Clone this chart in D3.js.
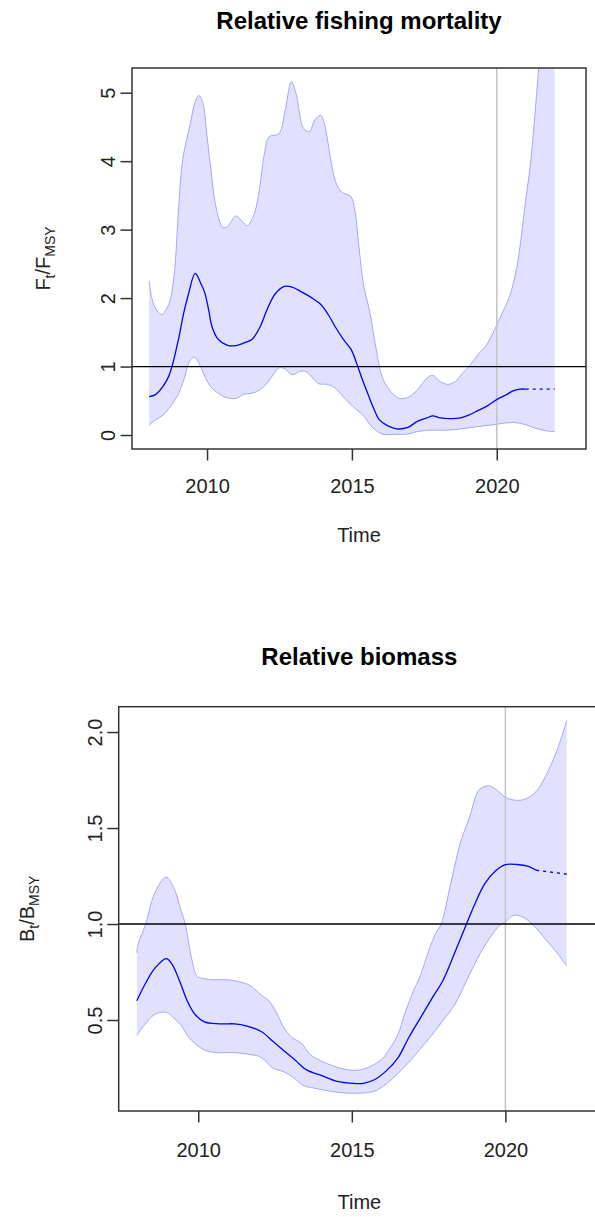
<!DOCTYPE html>
<html>
<head>
<meta charset="utf-8">
<script src="https://cdn.jsdelivr.net/npm/d3@7/dist/d3.min.js"></script>
<style>
  body { margin: 0; background: #fff; }
  svg { display: block; font-family: "Liberation Sans", Arial, sans-serif; }
</style>
</head>
<body>
<div id="chart"></div>
<script>
// ---- Relative fishing mortality (F / Fmsy) ----
const fUpperYears = [2008.0, 2008.1, 2008.28, 2008.45, 2008.6, 2008.74, 2008.88, 2009.0, 2009.13, 2009.24, 2009.4, 2009.58, 2009.72, 2009.86, 2009.99, 2010.12, 2010.31, 2010.55, 2010.71, 2011.0, 2011.17, 2011.39, 2011.63, 2011.82, 2011.98, 2012.15, 2012.48, 2012.7, 2012.91, 2013.07, 2013.33, 2013.53, 2013.72, 2013.92, 2014.05, 2014.25, 2014.44, 2014.64, 2014.97, 2015.1, 2015.23, 2015.4, 2015.62, 2015.82, 2016.02, 2016.21, 2016.6, 2016.93, 2017.26, 2017.59, 2017.79, 2018.05, 2018.31, 2018.57, 2018.83, 2019.1, 2019.36, 2019.62, 2019.88, 2020.14, 2020.41, 2020.67, 2021.0, 2021.19, 2021.32, 2021.45, 2021.7, 2022.0];
const fUpper = [2.25, 1.99, 1.81, 1.76, 1.84, 1.99, 2.4, 3.19, 3.92, 4.21, 4.5, 4.85, 4.96, 4.84, 4.4, 3.92, 3.33, 3.03, 3.05, 3.2, 3.14, 3.06, 3.23, 3.62, 4.11, 4.36, 4.4, 4.75, 5.16, 4.99, 4.48, 4.43, 4.6, 4.67, 4.55, 4.07, 3.7, 3.55, 3.48, 3.28, 2.8, 2.2, 1.79, 1.3, 0.88, 0.71, 0.54, 0.55, 0.66, 0.83, 0.87, 0.78, 0.74, 0.78, 0.91, 1.03, 1.18, 1.3, 1.5, 1.74, 1.99, 2.4, 3.43, 4.06, 4.7, 5.36, 6.6, 8.0];

const fLowerYears = [2008.0, 2008.22, 2008.48, 2008.74, 2009.0, 2009.2, 2009.4, 2009.55, 2009.72, 2009.92, 2010.12, 2010.38, 2010.71, 2011.04, 2011.23, 2011.56, 2011.82, 2012.08, 2012.28, 2012.48, 2012.67, 2012.94, 2013.2, 2013.39, 2013.59, 2013.85, 2014.12, 2014.38, 2014.64, 2014.9, 2015.16, 2015.43, 2015.62, 2015.82, 2016.08, 2016.48, 2016.93, 2017.26, 2017.65, 2018.18, 2018.57, 2019.1, 2019.49, 2019.88, 2020.41, 2020.67, 2021.0, 2021.32, 2021.72, 2022.0];
const fLower = [0.14, 0.22, 0.29, 0.42, 0.59, 0.81, 1.08, 1.14, 1.05, 0.86, 0.71, 0.61, 0.54, 0.54, 0.59, 0.61, 0.66, 0.76, 0.88, 0.98, 0.97, 0.88, 0.93, 0.93, 0.86, 0.75, 0.74, 0.7, 0.59, 0.47, 0.37, 0.27, 0.15, 0.07, 0.01, 0.01, 0.015, 0.05, 0.07, 0.07, 0.08, 0.11, 0.13, 0.15, 0.18, 0.18, 0.15, 0.1, 0.06, 0.05];

const fYears = [2008.0, 2008.22, 2008.48, 2008.68, 2008.81, 2009.0, 2009.2, 2009.36, 2009.59, 2009.79, 2009.92, 2010.05, 2010.18, 2010.38, 2010.71, 2011.04, 2011.3, 2011.56, 2011.82, 2012.08, 2012.35, 2012.67, 2012.94, 2013.26, 2013.59, 2013.92, 2014.18, 2014.44, 2014.7, 2014.97, 2015.16, 2015.36, 2015.56, 2015.75, 2015.95, 2016.21, 2016.54, 2016.93, 2017.26, 2017.59, 2017.79, 2018.05, 2018.37, 2018.7, 2019.03, 2019.36, 2019.69, 2020.01, 2020.34, 2020.54, 2020.8, 2021.0];
const fEstimate = [0.56, 0.59, 0.71, 0.86, 1.03, 1.37, 1.79, 2.06, 2.36, 2.21, 2.08, 1.84, 1.57, 1.4, 1.31, 1.31, 1.35, 1.4, 1.57, 1.84, 2.06, 2.17, 2.16, 2.09, 2.01, 1.91, 1.76, 1.57, 1.4, 1.25, 1.05, 0.81, 0.59, 0.39, 0.22, 0.14, 0.09, 0.11, 0.2, 0.25, 0.28, 0.25, 0.24, 0.245, 0.29, 0.36, 0.43, 0.52, 0.59, 0.64, 0.67, 0.67];

const fProjYears = [2021.0, 2022.0];
const fProjection = [0.67, 0.67];

// ---- Relative biomass (B / Bmsy) ----
const bUpperYears = [2008.0, 2008.05, 2008.28, 2008.58, 2008.95, 2009.2, 2009.44, 2009.58, 2009.77, 2009.95, 2010.07, 2010.44, 2010.94, 2011.31, 2011.68, 2012.05, 2012.3, 2012.54, 2012.79, 2013.04, 2013.35, 2013.65, 2013.96, 2014.4, 2014.89, 2015.26, 2015.63, 2016.0, 2016.25, 2016.49, 2016.74, 2016.99, 2017.23, 2017.48, 2017.73, 2017.91, 2018.22, 2018.53, 2018.84, 2019.15, 2019.46, 2019.7, 2020.0, 2020.32, 2020.63, 2021.0, 2021.31, 2021.68, 2022.0];
const bUpper = [0.85, 0.9, 0.995, 1.16, 1.244, 1.19, 1.07, 1.0, 0.83, 0.73, 0.72, 0.71, 0.71, 0.7, 0.68, 0.63, 0.6, 0.54, 0.46, 0.41, 0.38, 0.32, 0.29, 0.26, 0.24, 0.24, 0.26, 0.3, 0.355, 0.42, 0.54, 0.645, 0.73, 0.85, 0.95, 1.0, 1.21, 1.42, 1.56, 1.7, 1.72, 1.7, 1.66, 1.645, 1.65, 1.69, 1.77, 1.905, 2.06];

const bLowerYears = [2008.0, 2008.28, 2008.59, 2008.96, 2009.21, 2009.46, 2009.64, 2009.95, 2010.26, 2010.63, 2011.19, 2011.68, 2011.99, 2012.17, 2012.42, 2012.79, 2013.1, 2013.41, 2013.78, 2014.27, 2014.77, 2015.38, 2015.75, 2016.12, 2016.49, 2016.86, 2017.23, 2017.6, 2017.98, 2018.35, 2018.72, 2019.09, 2019.46, 2019.83, 2020.0, 2020.2, 2020.38, 2020.63, 2020.94, 2021.31, 2021.68, 2022.0];
const bLower = [0.42, 0.48, 0.53, 0.54, 0.51, 0.47, 0.42, 0.37, 0.34, 0.33, 0.33, 0.32, 0.31, 0.29, 0.25, 0.23, 0.2, 0.16, 0.145, 0.13, 0.12, 0.12, 0.13, 0.167, 0.22, 0.28, 0.35, 0.42, 0.5, 0.58, 0.7, 0.82, 0.92, 0.995, 1.01, 1.04, 1.046, 1.03, 0.99, 0.92, 0.85, 0.78];

const bYears = [2008.0, 2008.28, 2008.59, 2008.96, 2009.15, 2009.4, 2009.64, 2009.89, 2010.2, 2010.69, 2011.19, 2011.56, 2012.05, 2012.42, 2012.79, 2013.16, 2013.53, 2014.02, 2014.52, 2015.01, 2015.38, 2015.75, 2016.12, 2016.49, 2016.86, 2017.23, 2017.6, 2017.98, 2018.35, 2018.72, 2019.02, 2019.33, 2019.7, 2020.0, 2020.38, 2020.75, 2021.0];
const bEstimate = [0.6, 0.69, 0.77, 0.82, 0.79, 0.7, 0.6, 0.53, 0.49, 0.48, 0.48, 0.47, 0.44, 0.39, 0.34, 0.29, 0.24, 0.21, 0.18, 0.17, 0.17, 0.19, 0.235, 0.3, 0.41, 0.51, 0.61, 0.71, 0.85, 0.995, 1.11, 1.21, 1.28, 1.31, 1.31, 1.3, 1.28];

const bProjYears = [2021.0, 2022.0];
const bProjection = [1.28, 1.26];

// Axis ticks and reference positions
const xTicks = [2010, 2015, 2020];
const fTicks = [0, 1, 2, 3, 4, 5];
const bTicks = [0.5, 1.0, 1.5, 2.0];
const refYear = 2020;
const refLevel = 1;

// ---- Drawing ----
const W = 595, H = 1217;
const svg = d3.select("#chart").append("svg").attr("width", W).attr("height", H);

const zip = (a, b) => a.map((v, i) => [v, b[i]]);

function panel(cfg) {
  const x = d3.scaleLinear().domain([2007.41, 2023.08]).range([cfg.left, cfg.right]);
  const y = d3.scaleLinear().domain(cfg.yDomain).range([cfg.bottom, cfg.top]);
  const g = svg.append("g");

  const clipId = "clip-" + cfg.id;
  g.append("clipPath").attr("id", clipId).append("rect")
    .attr("x", cfg.left).attr("y", cfg.top)
    .attr("width", cfg.right - cfg.left).attr("height", cfg.bottom - cfg.top);

  const plot = g.append("g").attr("clip-path", `url(#${clipId})`);
  const line = d3.line().x(d => x(d[0])).y(d => y(d[1])).curve(d3.curveCatmullRom.alpha(0.5));

  const up = zip(cfg.upYears, cfg.up);
  const lo = zip(cfg.loYears, cfg.lo);
  const bandPath = line(up) + line(lo.slice().reverse()).replace(/^M/, "L") + "Z";

  plot.append("path").attr("d", bandPath).attr("fill", "rgb(225,225,255)").attr("stroke", "none");
  plot.append("path").attr("d", line(up)).attr("fill", "none").attr("stroke", "rgb(165,165,255)").attr("stroke-width", 1);
  plot.append("path").attr("d", line(lo)).attr("fill", "none").attr("stroke", "rgb(165,165,255)").attr("stroke-width", 1);

  // reference lines
  plot.append("line").attr("x1", x(refYear)).attr("x2", x(refYear))
    .attr("y1", cfg.top).attr("y2", cfg.bottom)
    .attr("stroke", "#c4c4c4").attr("stroke-width", 1.5);
  plot.append("line").attr("x1", cfg.left).attr("x2", cfg.right)
    .attr("y1", y(refLevel)).attr("y2", y(refLevel))
    .attr("stroke", "#000").attr("stroke-width", 1.3);

  // estimate and projection
  plot.append("path").attr("d", line(zip(cfg.midYears, cfg.mid)))
    .attr("fill", "none").attr("stroke", "#0000ff").attr("stroke-width", 1.3);
  plot.append("path").attr("d", line(zip(cfg.projYears, cfg.proj)))
    .attr("fill", "none").attr("stroke", "#0000ff").attr("stroke-width", 1.3)
    .attr("stroke-dasharray", "3,4");

  // frame
  g.append("rect").attr("x", cfg.left).attr("y", cfg.top)
    .attr("width", cfg.right - cfg.left).attr("height", cfg.bottom - cfg.top)
    .attr("fill", "none").attr("stroke", "#333").attr("stroke-width", 1.5);

  // x axis
  const xa = g.append("g").attr("transform", `translate(0,${cfg.bottom})`)
    .call(d3.axisBottom(x).tickValues(xTicks).tickSize(11.5).tickPadding(0).tickFormat(d3.format("d")));
  xa.select(".domain").remove();
  xa.selectAll(".tick line").attr("stroke", "#333").attr("stroke-width", 1.5);
  xa.selectAll(".tick text").attr("font-size", 20).attr("fill", "#222")
    .attr("font-family", '"Liberation Sans", Arial, sans-serif')
    .attr("y", cfg.xLabelGap).attr("dy", null);

  // y axis
  const ya = g.append("g").attr("transform", `translate(${cfg.left},0)`)
    .call(d3.axisLeft(y).tickValues(cfg.yTicks).tickSize(11.5).tickFormat(cfg.yFormat));
  ya.select(".domain").remove();
  ya.selectAll(".tick line").attr("stroke", "#333").attr("stroke-width", 1.5);
  ya.selectAll(".tick text").attr("font-size", 20).attr("fill", "#222")
    .attr("font-family", '"Liberation Sans", Arial, sans-serif')
    .attr("x", null).attr("dy", null)
    .attr("text-anchor", "middle")
    .attr("transform", `translate(${-cfg.yLabelGap},0) rotate(-90)`);

  // titles
  const cx = (cfg.left + cfg.right) / 2;
  g.append("text").attr("x", cx).attr("y", cfg.top - cfg.titleGap)
    .attr("text-anchor", "middle").attr("font-size", 24).attr("font-weight", "bold")
    .attr("fill", "#000").text(cfg.title);
  g.append("text").attr("x", cx).attr("y", cfg.bottom + cfg.timeGap)
    .attr("text-anchor", "middle").attr("font-size", 20).attr("fill", "#222").text("Time");

  // y label with subscripts
  const cy = (cfg.top + cfg.bottom) / 2;
  const lab = g.append("text").attr("text-anchor", "middle").attr("font-size", 20).attr("fill", "#222")
    .attr("transform", `translate(${cfg.left - cfg.yTitleGap},${cy}) rotate(-90)`);
  lab.append("tspan").text(cfg.sym);
  lab.append("tspan").attr("font-size", 14).attr("dy", 5).text("t");
  lab.append("tspan").attr("dy", -5).text("/");
  lab.append("tspan").text(cfg.sym);
  lab.append("tspan").attr("font-size", 14).attr("dy", 5).text("MSY");
}

panel({
  id: "f", left: 132, right: 586, top: 68, bottom: 449,
  yDomain: [-0.2045, 5.361], yTicks: fTicks, yFormat: d3.format("d"),
  upYears: fUpperYears, up: fUpper, loYears: fLowerYears, lo: fLower,
  midYears: fYears, mid: fEstimate, projYears: fProjYears, proj: fProjection,
  title: "Relative fishing mortality", sym: "F",
  xLabelGap: 44, yLabelGap: 17, titleGap: 39, timeGap: 93, yTitleGap: 82
});

panel({
  id: "b", left: 118.7, right: 600, top: 706.7, bottom: 1111,
  yDomain: [0.026, 2.132], yTicks: bTicks, yFormat: d3.format(".1f"),
  upYears: bUpperYears, up: bUpper, loYears: bLowerYears, lo: bLower,
  midYears: bYears, mid: bEstimate, projYears: bProjYears, proj: bProjection,
  title: "Relative biomass", sym: "B",
  xLabelGap: 46, yLabelGap: 17, titleGap: 42, timeGap: 98, yTitleGap: 85
});
</script>
</body>
</html>
